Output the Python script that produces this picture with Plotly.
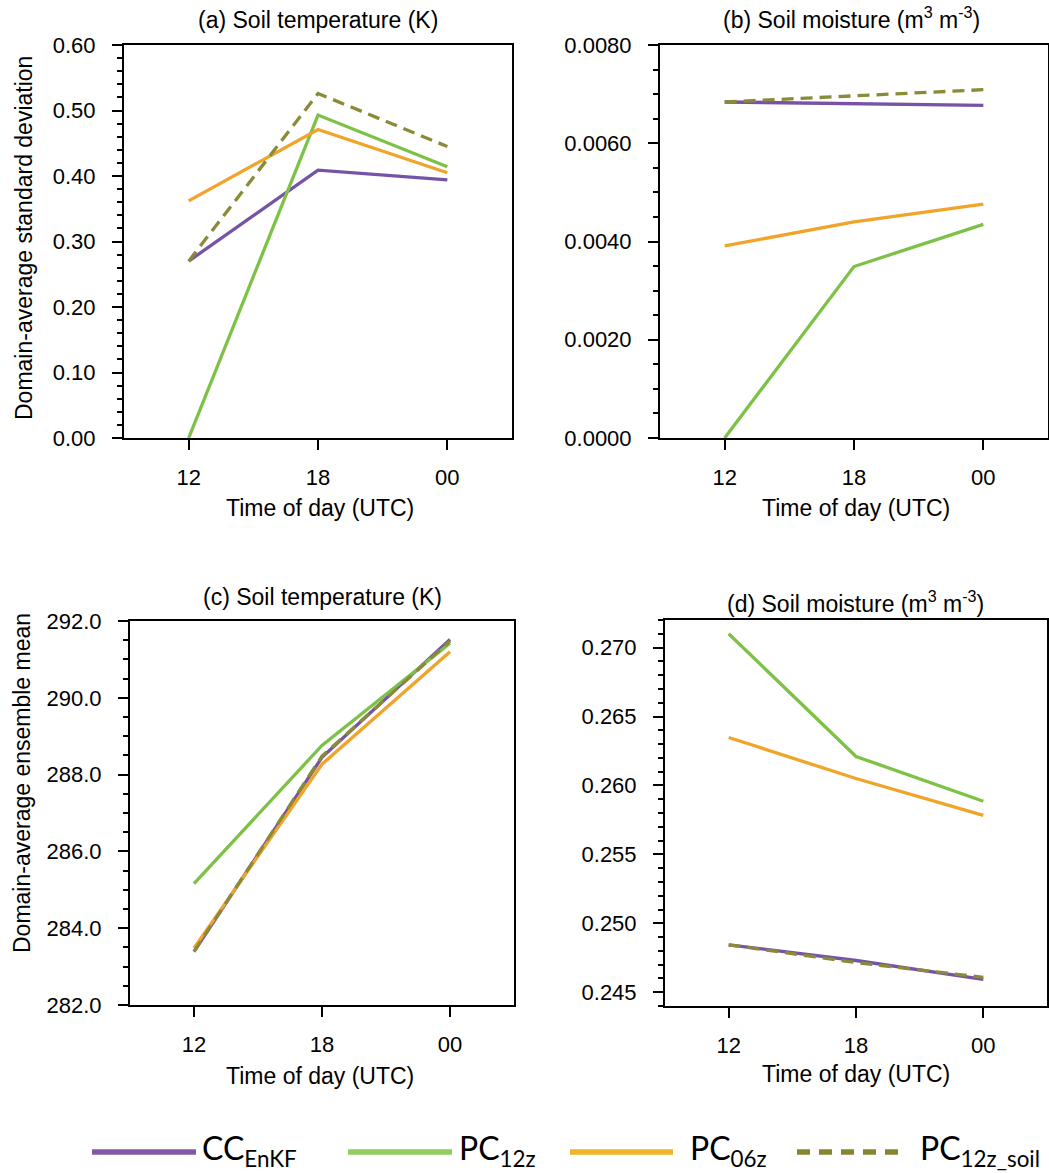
import plotly.graph_objects as go

# ---- data -------------------------------------------------------------
hours = ["12", "18", "00"]

# (a) domain-average standard deviation, soil temperature (K)
sd_temp_cc = [0.270, 0.409, 0.394]
sd_temp_pc12 = [0.000, 0.493, 0.414]
sd_temp_pc06 = [0.362, 0.471, 0.405]
sd_temp_pc12soil = [0.270, 0.526, 0.445]

# (b) domain-average standard deviation, soil moisture (m3 m-3)
sd_moist_cc = [0.00684, 0.00680, 0.00677]
sd_moist_pc12 = [0.00000, 0.00349, 0.00435]
sd_moist_pc06 = [0.00391, 0.00440, 0.00476]
sd_moist_pc12soil = [0.00684, 0.00697, 0.00709]

# (c) domain-average ensemble mean, soil temperature (K)
mean_temp_cc = [283.39, 288.45, 291.52]
mean_temp_pc12 = [285.16, 288.76, 291.42]
mean_temp_pc06 = [283.48, 288.27, 291.20]
mean_temp_pc12soil = [283.39, 288.48, 291.48]

# (d) domain-average ensemble mean, soil moisture (m3 m-3)
mean_moist_cc = [0.24844, 0.24730, 0.24594]
mean_moist_pc12 = [0.27100, 0.26210, 0.25885]
mean_moist_pc06 = [0.26348, 0.26050, 0.25783]
mean_moist_pc12soil = [0.24844, 0.24715, 0.24608]

series_names = ["CC<sub>EnKF</sub>", "PC<sub>12z</sub>", "PC<sub>06z</sub>", "PC<sub>12z_soil</sub>"]

# ---- styling ------------------------------------------------------------
W, H = 1049, 1173
line_colors = ["#7653A6", "#7DC146", "#F0A429", "#8A8A38"]
legend_colors = ["#8159A8", "#92CD61", "#F0B429", "#858532"]
dashes = ["solid", "solid", "solid", "12px,7px"]
FONT = "Liberation Sans, Arial, sans-serif"
LEGEND_FONT = "Lato, sans-serif"


def px_x(x):
    return x / W


def px_y(y):
    return 1 - y / H


fig = go.Figure()

panels = [
    # data, axis suffix, x-domain px, y-domain px, y-range, first major, major, minor, format
    ([sd_temp_cc, sd_temp_pc12, sd_temp_pc06, sd_temp_pc12soil], "",
     (124, 512), (45, 438), [0, 0.6], 0, 0.1, 0.02, ".2f"),
    ([sd_moist_cc, sd_moist_pc12, sd_moist_pc06, sd_moist_pc12soil], "2",
     (660, 1048), (45, 438), [0, 0.008], 0, 0.002, 0.0005, ".4f"),
    ([mean_temp_cc, mean_temp_pc12, mean_temp_pc06, mean_temp_pc12soil], "3",
     (130, 514), (621, 1005), [282, 292], 282, 2, 0.5, ".1f"),
    ([mean_moist_cc, mean_moist_pc12, mean_moist_pc06, mean_moist_pc12soil], "4",
     (665, 1047), (620, 1006), [0.244, 0.272], 0.245, 0.005, 0.001, ".3f"),
]

layout_axes = {}
for series, suf, xd, yd, yr, t0, major, minor, fmt in panels:
    for vals, name, col, dash in zip(series, series_names, line_colors, dashes):
        fig.add_trace(go.Scatter(
            x=hours, y=vals, mode="lines", name=name, showlegend=False,
            line=dict(color=col, width=3.3, dash=dash),
            xaxis="x" + suf, yaxis="y" + suf,
        ))
    layout_axes["xaxis" + suf] = dict(
        domain=[px_x(xd[0]), px_x(xd[1])], anchor="y" + suf,
        type="category", range=[-0.5, 2.5],
        showline=True, mirror=True, linecolor="black", linewidth=2,
        ticks="outside", ticklen=10, tickwidth=1.5, tickcolor="black",
        ticklabelstandoff=9,
        showgrid=False, zeroline=False,
        tickfont=dict(family=FONT, size=22, color="black"),
    )
    layout_axes["yaxis" + suf] = dict(
        domain=[px_y(yd[1]), px_y(yd[0])], anchor="x" + suf,
        range=yr, tick0=t0, dtick=major, tickformat=fmt,
        showline=True, mirror=True, linecolor="black", linewidth=2,
        ticks="outside", ticklen=10, tickwidth=1.5, tickcolor="black",
        ticklabelstandoff=12,
        minor=dict(dtick=minor, tick0=t0, ticks="outside", ticklen=5,
                   tickwidth=1.5, tickcolor="black", showgrid=False),
        showgrid=False, zeroline=False,
        tickfont=dict(family=FONT, size=22, color="black"),
    )

annotations = []


def add_text(text, x, y, size=23, angle=0, xanchor="center", family=FONT):
    annotations.append(dict(
        text=text, x=px_x(x), y=px_y(y), xref="paper", yref="paper",
        xanchor=xanchor, yanchor="middle", showarrow=False, textangle=angle,
        font=dict(family=family, size=size, color="black"),
    ))


# panel titles
add_text("(a) Soil temperature (K)", 318, 20)
add_text("(b) Soil moisture (m<sup>3</sup> m<sup>-3</sup>)", 851, 18)
add_text("(c) Soil temperature (K)", 322, 597)
add_text("(d) Soil moisture (m<sup>3</sup> m<sup>-3</sup>)", 855, 602)

# axis titles
for x, y in [(320, 508), (856, 508), (320, 1076), (856, 1074)]:
    add_text("Time of day (UTC)", x, y)
add_text("Domain-average standard deviation", 24, 238, angle=-90)
add_text("Domain-average ensemble mean", 22, 783, angle=-90)

# legend along the bottom
shapes = []
legend_lines = [(92, 196), (348, 452), (570, 673), (797, 903)]
legend_text_x = [200, 457, 688, 918]
legend_dash = ["solid", "solid", "solid", "13px,9px"]
for (x0, x1), tx, col, dash, name in zip(legend_lines, legend_text_x, legend_colors,
                                          legend_dash, series_names):
    shapes.append(dict(
        type="line", xref="paper", yref="paper",
        x0=px_x(x0), x1=px_x(x1), y0=px_y(1152), y1=px_y(1152),
        line=dict(color=col, width=5.5, dash=dash),
    ))
    add_text(name, tx, 1150, size=32, xanchor="left", family=LEGEND_FONT)

fig.update_layout(
    width=W, height=H,
    margin=dict(l=0, r=0, t=0, b=0, autoexpand=False),
    paper_bgcolor="white", plot_bgcolor="white",
    showlegend=False,
    annotations=annotations, shapes=shapes,
    **layout_axes,
)

fig.write_html("out.html")
